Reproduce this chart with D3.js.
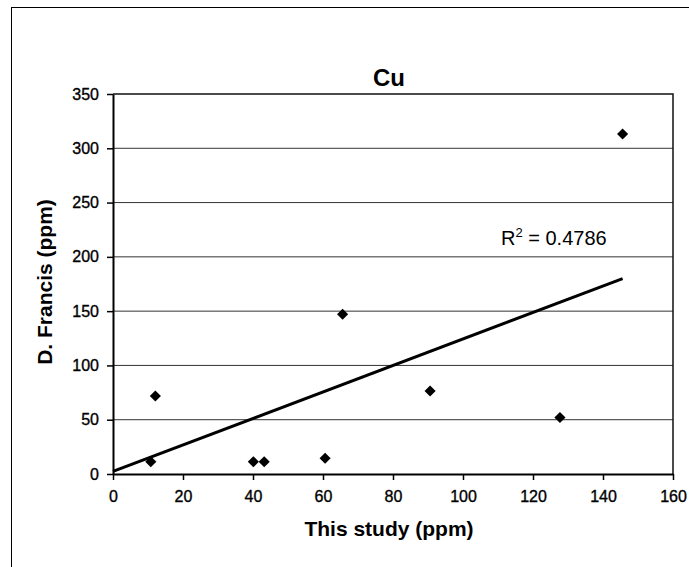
<!DOCTYPE html>
<html>
<head>
<meta charset="utf-8">
<script src="https://cdn.jsdelivr.net/npm/d3@7"></script>
<style>
  html, body { margin: 0; padding: 0; background: #fff; }
  svg { display: block; }
  text { font-family: "Liberation Sans", Arial, sans-serif; fill: #000; }
</style>
</head>
<body>
<script>
// Cu concentrations: this study vs. D. Francis (ppm)
const thisStudy = [10.8, 12.1, 40.1, 43.2, 60.6, 65.6, 90.6, 127.7, 145.6];
const francis   = [11.3, 71.8, 11.3, 11.3, 14.5, 147.1, 76.4, 52.0, 313.2];

// Linear trendline as shown on the chart
const trendSlope = 1.22;
const trendIntercept = 2.4;
const rSquared = "0.4786";

const xTicks = [0, 20, 40, 60, 80, 100, 120, 140, 160];
const yTicks = [0, 50, 100, 150, 200, 250, 300, 350];

const chartTitle = "Cu";
const xTitle = "This study (ppm)";
const yTitle = "D. Francis (ppm)";

const W = 689, H = 567;
const plot = { left: 113, right: 673, top: 94, bottom: 474 };

const svg = d3.select("body").append("svg")
  .attr("width", W).attr("height", H);

// outer chart frame
svg.append("rect")
  .attr("x", 11.5).attr("y", 7.5)
  .attr("width", 720).attr("height", 620)
  .attr("fill", "#fff").attr("stroke", "#000").attr("stroke-width", 1);

const x = d3.scaleLinear().domain([0, 160]).range([plot.left, plot.right]);
const y = d3.scaleLinear().domain([0, 350]).range([plot.bottom, plot.top]);

// horizontal gridlines
svg.append("g")
  .selectAll("line")
  .data(yTicks.filter(v => v > 0 && v < 350))
  .join("line")
  .attr("x1", plot.left).attr("x2", plot.right)
  .attr("y1", d => y(d)).attr("y2", d => y(d))
  .attr("stroke", "#333").attr("stroke-width", 1);

// plot area border (top and right)
svg.append("path")
  .attr("d", `M${plot.left},${y(350)}H${plot.right}V${plot.bottom}`)
  .attr("fill", "none").attr("stroke", "#111").attr("stroke-width", 1.5);

// axes
const xAxis = svg.append("g")
  .attr("transform", `translate(0,${plot.bottom})`)
  .call(d3.axisBottom(x).tickValues(xTicks).tickSize(6).tickPadding(11).tickSizeOuter(0));
const yAxis = svg.append("g")
  .attr("transform", `translate(${plot.left},0)`)
  .call(d3.axisLeft(y).tickValues(yTicks).tickSize(6).tickPadding(8).tickSizeOuter(0));

[xAxis, yAxis].forEach(g => {
  g.select(".domain").attr("stroke", "#000").attr("stroke-width", 2);
  g.selectAll(".tick line").attr("stroke", "#000").attr("stroke-width", 1.5);
  g.selectAll(".tick text")
    .style("font-family", '"Liberation Sans", Arial, sans-serif')
    .style("font-size", "16px")
    .attr("fill", "#000")
    .attr("stroke", "#000").attr("stroke-width", 0.35);
});

// trendline
const xMax = d3.max(thisStudy);
svg.append("line")
  .attr("x1", x(0)).attr("y1", y(trendIntercept))
  .attr("x2", x(xMax)).attr("y2", y(trendIntercept + trendSlope * xMax))
  .attr("stroke", "#000").attr("stroke-width", 3)
  .attr("stroke-linecap", "butt");

// data markers (diamonds)
const diamond = d3.symbol().type(d3.symbolSquare).size(62);
svg.append("g")
  .selectAll("path")
  .data(thisStudy.map((v, i) => [v, francis[i]]))
  .join("path")
  .attr("d", diamond)
  .attr("transform", d => `translate(${x(d[0])},${y(d[1])}) rotate(45)`)
  .attr("fill", "#000");

// R² label
const rLabel = svg.append("text")
  .attr("x", 501).attr("y", 245)
  .style("font-size", "20px");
rLabel.append("tspan").text("R");
rLabel.append("tspan").attr("dy", -8).style("font-size", "13px").text("2");
rLabel.append("tspan").attr("dy", 8).text(" = " + rSquared);

// titles
svg.append("text")
  .attr("x", (plot.left + plot.right) / 2 - 4).attr("y", 86)
  .attr("text-anchor", "middle")
  .style("font-size", "24px").style("font-weight", "bold")
  .text(chartTitle);

svg.append("text")
  .attr("x", (plot.left + plot.right) / 2 - 4).attr("y", 536)
  .attr("text-anchor", "middle")
  .style("font-size", "21px").style("font-weight", "bold")
  .text(xTitle);

svg.append("text")
  .attr("transform", `translate(52,${(plot.top + plot.bottom) / 2 - 2}) rotate(-90)`)
  .attr("text-anchor", "middle")
  .style("font-size", "21px").style("font-weight", "bold")
  .text(yTitle);
</script>
</body>
</html>
